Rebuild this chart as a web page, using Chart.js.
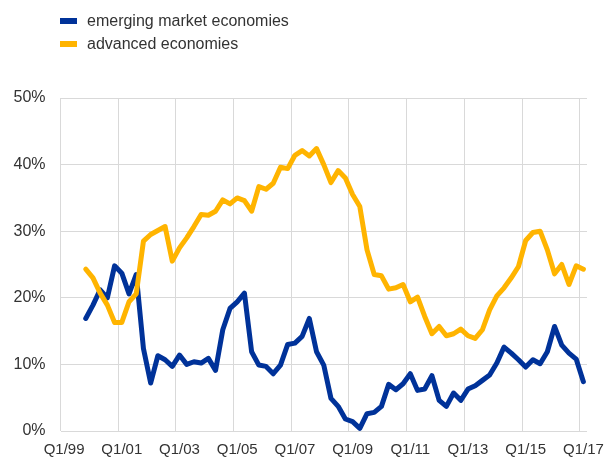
<!DOCTYPE html>
<html>
<head>
<meta charset="utf-8">
<script src="https://cdn.jsdelivr.net/npm/chart.js@4/dist/chart.umd.min.js"></script>
<style>
    body { margin: 0; background: #ffffff; }
    #wrap { position: relative; width: 608px; height: 457px; font-family: 'Liberation Sans', Arial, sans-serif; }
    #legend { position: absolute; left: 60px; top: 9px; font-size: 16px; color: #333333; }
    .item { height: 23px; line-height: 23px; white-space: nowrap; }
    .swatch { display: inline-block; width: 17px; height: 6px; margin-right: 10px; vertical-align: middle; position: relative; top: -1px; }
</style>
</head>
<body>
<div id="wrap">
    <div id="legend"></div>
    <canvas id="chart"></canvas>
</div>
<script>
// quarters Q1/99 .. Q1/17
const years = ['99', '00', '01', '02', '03', '04', '05', '06', '07', '08',
               '09', '10', '11', '12', '13', '14', '15', '16', '17'];
const quarters = ['Q1', 'Q2', 'Q3', 'Q4'];

const emerging = [
    null, null, null, 16.9,
    18.9, 21.2, 20.0, 24.8, 23.7, 20.6, 23.5, 12.4,
    7.2, 11.3, 10.7, 9.7, 11.4, 10.0, 10.4, 10.2,
    10.9, 9.1, 15.2, 18.4, 19.4, 20.7, 11.9, 9.9,
    9.7, 8.6, 9.9, 13.0, 13.2, 14.2, 16.9, 11.9,
    9.9, 4.9, 3.7, 1.8, 1.4, 0.4, 2.6, 2.8,
    3.7, 7.0, 6.2, 7.1, 8.6, 6.1, 6.3, 8.3,
    4.6, 3.7, 5.7, 4.6, 6.3, 6.8, 7.6, 8.4,
    10.2, 12.6, 11.7, 10.7, 9.6, 10.7, 10.1, 11.9,
    15.7, 12.9, 11.7, 10.8, 7.4
];

const advanced = [
    null, null, null, 24.3,
    23.0, 20.7, 18.9, 16.3, 16.3, 19.4, 20.6, 28.5,
    29.5, 30.1, 30.7, 25.5, 27.5, 29.0, 30.7, 32.5,
    32.4, 33.0, 34.7, 34.1, 35.0, 34.6, 33.0, 36.7,
    36.3, 37.2, 39.6, 39.4, 41.4, 42.1, 41.3, 42.4,
    40.0, 37.3, 39.1, 38.0, 35.5, 33.7, 27.2, 23.5,
    23.3, 21.3, 21.5, 22.0, 19.4, 20.1, 17.2, 14.6,
    15.7, 14.3, 14.6, 15.3, 14.3, 13.9, 15.2, 18.2,
    20.3, 21.5, 23.0, 24.7, 28.6, 29.8, 30.0, 27.2,
    23.6, 25.0, 22.0, 24.8, 24.3
];

const yTicks = [0, 10, 20, 30, 40, 50];

const labels = [];
years.forEach(function(y) {
    quarters.forEach(function(q) {
        if (labels.length < 73) labels.push(q + '/' + y);
    });
});

const series = [
    { label: 'emerging market economies', data: emerging, color: '#003299', order: 1 },
    { label: 'advanced economies', data: advanced, color: '#FFB400', order: 0 }
];

// html legend, stacked like the original
const legendEl = document.getElementById('legend');
series.forEach(function(s) {
    const row = document.createElement('div');
    row.className = 'item';
    row.innerHTML = '<span class="swatch" style="background:' + s.color + '"></span>' + s.label;
    legendEl.appendChild(row);
});

const font = "'Liberation Sans', Arial, sans-serif";
const gridColor = '#d9d9d9';

new Chart(document.getElementById('chart'), {
    type: 'line',
    data: {
        labels: labels,
        datasets: series.map(function(s) {
            return {
                label: s.label,
                data: s.data,
                borderColor: s.color,
                backgroundColor: s.color,
                borderWidth: 5,
                borderJoinStyle: 'round',
                borderCapStyle: 'round',
                pointRadius: 0,
                tension: 0,
                fill: false,
                order: s.order
            };
        })
    },
    options: {
        responsive: true,
        maintainAspectRatio: false,
        animation: false,
        layout: { padding: { top: 98, right: 21, left: 0, bottom: 0 } },
        scales: {
            x: {
                type: 'category',
                offset: true,
                grid: {
                    offset: true,
                    drawTicks: false,
                    lineWidth: 1,
                    color: function(ctx) {
                        return ctx.index % 8 === 0 ? gridColor : 'rgba(0,0,0,0)';
                    }
                },
                border: { display: false },
                ticks: {
                    autoSkip: false,
                    maxRotation: 0,
                    padding: 10,
                    color: '#333333',
                    font: { size: 15, family: font },
                    callback: function(value, index) {
                        return index % 8 === 0 ? labels[index] : '';
                    }
                },
                afterFit: function(scale) {
                    scale.height = 26;
                    // labels may overhang the plot edges, as in the original
                    scale.paddingLeft = 0;
                    scale.paddingRight = 0;
                }
            },
            y: {
                min: yTicks[0],
                max: yTicks[yTicks.length - 1],
                grid: { color: gridColor, lineWidth: 1, drawTicks: false },
                border: { display: false },
                ticks: {
                    stepSize: 10,
                    padding: 15,
                    color: '#333333',
                    font: { size: 16, family: font },
                    callback: function(value) { return value + '%'; }
                },
                afterFit: function(scale) { scale.width = 60.5; }
            }
        },
        plugins: {
            legend: { display: false },
            tooltip: { enabled: false }
        }
    }
});
</script>
</body>
</html>
